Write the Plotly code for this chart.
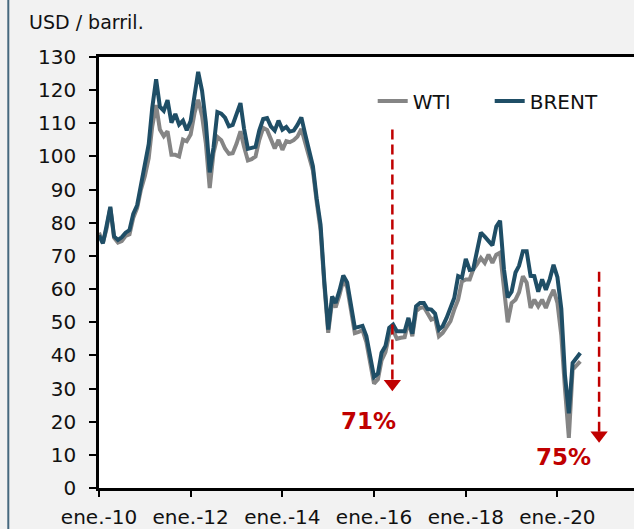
import plotly.graph_objects as go
import pandas as pd

# ---------------- data ----------------
months = pd.date_range("2010-01-01", "2020-07-01", freq="MS")

brent = [
    76.2, 73.8, 78.8, 84.8, 75.9, 74.8, 75.6, 77.0, 77.8, 82.7, 85.3, 91.5,
    96.5, 103.7, 114.6, 123.3, 115.0, 113.8, 117.0, 110.2, 112.8, 109.6, 110.8, 107.9,
    110.7, 119.3, 125.5, 119.8, 110.3, 95.2, 102.6, 113.4, 112.9, 111.7, 109.1, 109.5,
    113.0, 116.1, 108.5, 102.3, 102.6, 102.9, 107.9, 111.3, 111.6, 109.1, 107.8, 110.8,
    108.1, 108.9, 107.5, 107.8, 109.5, 111.8, 106.8, 101.6, 97.1, 87.4, 79.4, 62.3,
    47.8, 57.8, 55.8, 59.6, 64.1, 62.0, 55.0, 48.3, 48.6, 48.9, 45.8, 39.7,
    33.5, 34.5, 40.8, 42.8, 48.3, 49.3, 47.3, 47.3, 47.3, 51.3, 46.5, 54.8,
    55.8, 55.8, 54.0, 53.8, 52.6, 47.8, 48.8, 51.3, 54.3, 57.3, 63.9, 63.4,
    69.1, 65.8, 66.0, 71.2, 77.0, 75.8, 74.6, 73.2, 78.9, 80.6, 66.0, 57.5,
    59.2, 65.0, 67.0, 71.4, 71.4, 64.0, 63.9, 59.2, 62.9, 59.8, 63.0, 67.3,
    63.6, 54.0, 34.0, 22.5, 37.7, 39.5, 40.7,
]

wti = [
    77.0, 74.0, 78.0, 84.5, 75.5, 74.0, 74.5, 76.0, 76.5, 81.5, 84.5, 90.0,
    94.0, 99.5, 109.0, 115.5, 108.1, 106.1, 107.6, 100.5, 100.5, 100.0, 105.1, 104.6,
    106.6, 113.1, 117.1, 112.2, 104.0, 90.5, 101.0, 105.9, 104.9, 102.4, 100.8, 101.0,
    103.9, 107.6, 103.0, 98.8, 99.2, 100.0, 105.0, 108.6, 108.0, 105.0, 102.4, 105.0,
    102.0, 104.6, 104.3, 104.9, 106.0, 108.3, 104.5, 99.8, 95.8, 86.3, 77.8, 61.2,
    46.8, 56.3, 54.5, 58.2, 62.7, 60.5, 53.5, 46.7, 47.1, 47.6, 44.0, 37.8,
    31.5, 32.8, 38.5, 41.0, 46.3, 47.6, 45.0, 45.3, 45.5, 50.3, 45.8, 53.3,
    54.3, 54.6, 52.8, 50.8, 51.3, 45.8, 46.8, 48.8, 50.3, 53.8, 56.8, 62.3,
    62.9, 62.9, 65.9, 67.5, 69.4, 67.9, 70.4, 67.9, 70.4, 71.0, 61.0, 50.0,
    55.8, 56.8, 59.0, 63.9, 61.9, 54.3, 56.8, 54.8, 56.8, 54.3, 57.4, 59.8,
    55.8, 46.0, 30.0, 15.1, 35.7, 37.0, 38.2,
]

tick_vals = ["2010-01-01", "2012-01-01", "2014-01-01", "2016-01-01", "2018-01-01", "2020-01-01"]
tick_text = ["ene.-10", "ene.-12", "ene.-14", "ene.-16", "ene.-18", "ene.-20"]

# drawdown annotations (dashed red arrows + percentages)
arrow_dates = ["2016-05-26", "2020-11-28"]
arrow_top = [108.1, 65.2]
arrow_bottom = [32.6, 17.0]
arrow_head = [31.45, 15.9]
label_dates = ["2015-11-17", "2020-02-15"]
label_y = [20.1, 9.3]
label_text = ["71%", "75%"]

# ---------------- styles ----------------
FONT = "DejaVu Sans"
C_BRENT = "#1f4e66"
C_WTI = "#858585"
C_RED = "#c00000"

W, H = 634, 529
ML, MR, MT, MB = 99, 0, 57, 41
PW, PH = W - ML - MR, H - MT - MB

fig = go.Figure()

fig.add_trace(go.Scatter(x=months, y=wti, name="WTI", mode="lines",
                         line=dict(color=C_WTI, width=4)))
fig.add_trace(go.Scatter(x=months, y=brent, name="BRENT", mode="lines",
                         line=dict(color=C_BRENT, width=4)))

for d, yt, yb, yh in zip(arrow_dates, arrow_top, arrow_bottom, arrow_head):
    fig.add_trace(go.Scatter(x=[d, d], y=[yt, yb], mode="lines", showlegend=False,
                             hoverinfo="skip",
                             line=dict(color=C_RED, width=2.5, dash="10px,5px")))
    fig.add_trace(go.Scatter(x=[d], y=[yh], mode="markers", showlegend=False,
                             hoverinfo="skip",
                             marker=dict(symbol="triangle-down", size=15, color=C_RED,
                                         line=dict(width=0))))

for d, yv, t in zip(label_dates, label_y, label_text):
    fig.add_annotation(x=d, y=yv, text=f"<b>{t}</b>", showarrow=False,
                       font=dict(family=FONT, size=23, color=C_RED),
                       xanchor="center", yanchor="middle")

# y-axis title text
fig.add_annotation(xref="paper", yref="paper", x=(27 - ML) / PW, y=(H - MB - 21.5) / PH,
                   text="USD / barril.", showarrow=False, xanchor="left", yanchor="middle",
                   font=dict(family=FONT, size=19, color="#111111"))

# left frame line of the panel
fig.add_shape(type="line", xref="paper", yref="paper",
              x0=(8.3 - ML) / PW, x1=(8.3 - ML) / PW,
              y0=(H - MB - H) / PH - 0.01, y1=(H - MB) / PH + 0.01,
              line=dict(color="#46697f", width=2))

fig.update_layout(
    width=W, height=H,
    margin=dict(l=ML, r=MR, t=MT, b=MB, autoexpand=False),
    paper_bgcolor="#f2f2f2",
    plot_bgcolor="#ffffff",
    font=dict(family=FONT, size=20, color="#111111"),
    showlegend=True,
    legend=dict(orientation="h", x=(377.7 - 5 - ML) / PW, xanchor="left",
                y=(H - MB - 101) / PH, yanchor="middle",
                bgcolor="rgba(0,0,0,0)", entrywidth=72,
                font=dict(family=FONT, size=20, color="#111111")),
    xaxis=dict(type="date", range=["2010-01-01", "2021-09-02"],
               tickvals=tick_vals, ticktext=tick_text,
               showgrid=False, zeroline=False,
               showline=True, linecolor="#000000", linewidth=2.5, mirror=True,
               ticks="outside", ticklen=6, tickwidth=2, tickcolor="#000000",
               ticklabelstandoff=3,
               tickfont=dict(family=FONT, size=20, color="#111111")),
    yaxis=dict(range=[0, 130], dtick=10, tick0=0,
               showgrid=False, zeroline=False,
               showline=True, linecolor="#000000", linewidth=2.5, mirror=False,
               ticks="outside", ticklen=7, tickwidth=2, tickcolor="#000000",
               ticklabelstandoff=9,
               tickfont=dict(family=FONT, size=20, color="#111111")),
)

fig.write_html("out.html", config={"displayModeBar": False},
               post_script="document.body.style.margin='0px';document.body.style.overflow='hidden';")
